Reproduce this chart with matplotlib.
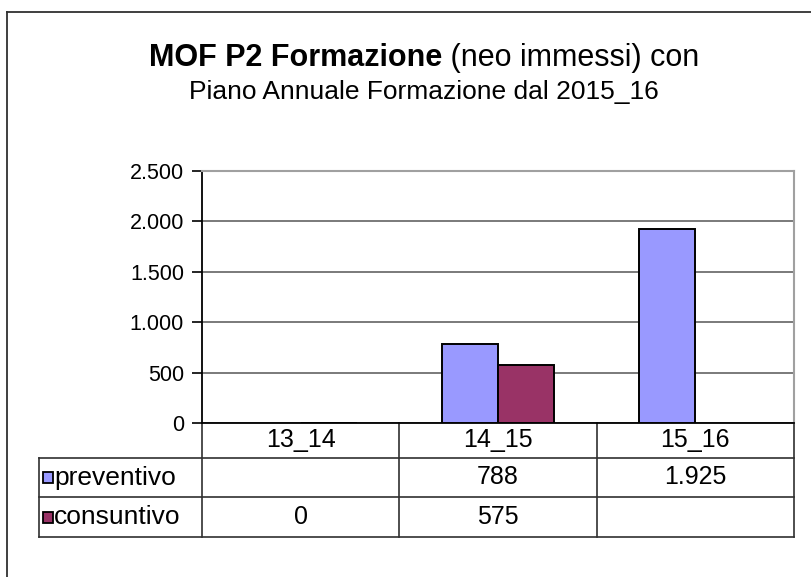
import numpy as np
import matplotlib
matplotlib.use('Agg')
import matplotlib.pyplot as plt
from matplotlib.lines import Line2D
from matplotlib.patches import Rectangle

# data
categories = ['13_14', '14_15', '15_16']
preventivo = [np.nan, 788, 1925]
consuntivo = [0, 575, np.nan]
series_names = ['preventivo', 'consuntivo']
series_colors = ['#9999FF', '#993366']
y_ticks = [0, 500, 1000, 1500, 2000, 2500]


def fmt(v):
    # italian thousands separator
    if np.isnan(v):
        return ''
    return f'{v:,.0f}'.replace(',', '.')


plt.rcParams['font.family'] = ['Liberation Sans', 'DejaVu Sans']

W, H = 812, 577
fig = plt.figure(figsize=(W / 100, H / 100), dpi=100)

# outer chart border (only top and left visible in the crop)
fig.add_artist(Line2D([7 / W, 7 / W], [0, 1 - 12 / H], color='#303030', lw=1.3))
fig.add_artist(Line2D([7 / W, 1], [1 - 12 / H, 1 - 12 / H], color='#303030', lw=1.3))

# title: bold part + regular part, centred together
r = fig.canvas.get_renderer()
t1 = fig.text(0, 1 - 58 / H, 'MOF P2 Formazione', fontsize=22, fontweight='bold',
              ha='left', va='center')
t2 = fig.text(0, 1 - 58 / H, ' (neo immessi) con', fontsize=22, ha='left', va='center')
w1 = t1.get_window_extent(r).width
w2 = t2.get_window_extent(r).width
x0 = 424 - (w1 + w2) / 2
t1.set_x(x0 / W)
t2.set_x((x0 + w1) / W)
fig.text(424 / W, 1 - 92 / H, 'Piano Annuale Formazione dal 2015_16', fontsize=19,
         ha='center', va='center')

ax = fig.add_axes([202 / W, 1 - 423 / H, 592 / W, 252 / H])

x = np.arange(len(categories))
w = 0.285
ax.bar(x - w / 2, preventivo, w, color=series_colors[0], edgecolor='black', linewidth=1.4, zorder=3)
ax.bar(x + w / 2, consuntivo, w, color=series_colors[1], edgecolor='black', linewidth=1.4, zorder=3)

ax.set_xlim(-0.5, len(categories) - 0.5)
ax.set_ylim(0, 2500)
ax.set_yticks(y_ticks)
ax.set_yticklabels([fmt(t) for t in y_ticks], fontsize=15.5)
ax.set_xticks([])
ax.tick_params(axis='y', direction='out', length=7, width=1.2, pad=6)
ax.yaxis.grid(True, color='#707070', lw=1.3, zorder=0)
ax.set_axisbelow(True)
ax.spines['left'].set_color('black')
ax.spines['left'].set_linewidth(1.3)
ax.spines['bottom'].set_color('black')
ax.spines['bottom'].set_linewidth(1.3)
ax.spines['top'].set_color('#a0a0a0')
ax.spines['top'].set_linewidth(1.5)
ax.spines['right'].set_color('#a0a0a0')
ax.spines['right'].set_linewidth(1.5)

# data table under the plot
tr = ax.get_xaxis_transform()
px = len(categories) / 592.0          # data units per pixel along x
row_edges = [0, -35 / 252, -74 / 252, -114 / 252]
left_lab = -0.5 - 163 * px
right = len(categories) - 0.5
lc = '#303030'
for yv in row_edges[1:]:
    ax.plot([left_lab, right], [yv, yv], color=lc, lw=1.2, transform=tr, clip_on=False)
ax.plot([left_lab, left_lab], [row_edges[1], row_edges[3]], color=lc, lw=1.2,
        transform=tr, clip_on=False)
for xb in np.arange(len(categories) + 1) - 0.5:
    ax.plot([xb, xb], [0, row_edges[3]], color=lc, lw=1.2, transform=tr, clip_on=False)

mid = [(row_edges[i] + row_edges[i + 1]) / 2 for i in range(3)]
for i, c in enumerate(categories):
    ax.text(i, mid[0], c, fontsize=18, ha='center', va='center', transform=tr)
for k, vals in enumerate([preventivo, consuntivo]):
    for i, v in enumerate(vals):
        ax.text(i, mid[k + 1], fmt(v), fontsize=18, ha='center', va='center', transform=tr)
    # legend key + series name
    ax.add_patch(Rectangle((left_lab + 4 * px, mid[k + 1] - 5.5 / 252), 10 * px, 11 / 252,
                           facecolor=series_colors[k], edgecolor='black', lw=1.3,
                           transform=tr, clip_on=False))
    ax.text(left_lab + 15 * px, mid[k + 1], series_names[k], fontsize=19, ha='left',
            va='center', transform=tr)

fig.savefig('out.png', dpi=100)
